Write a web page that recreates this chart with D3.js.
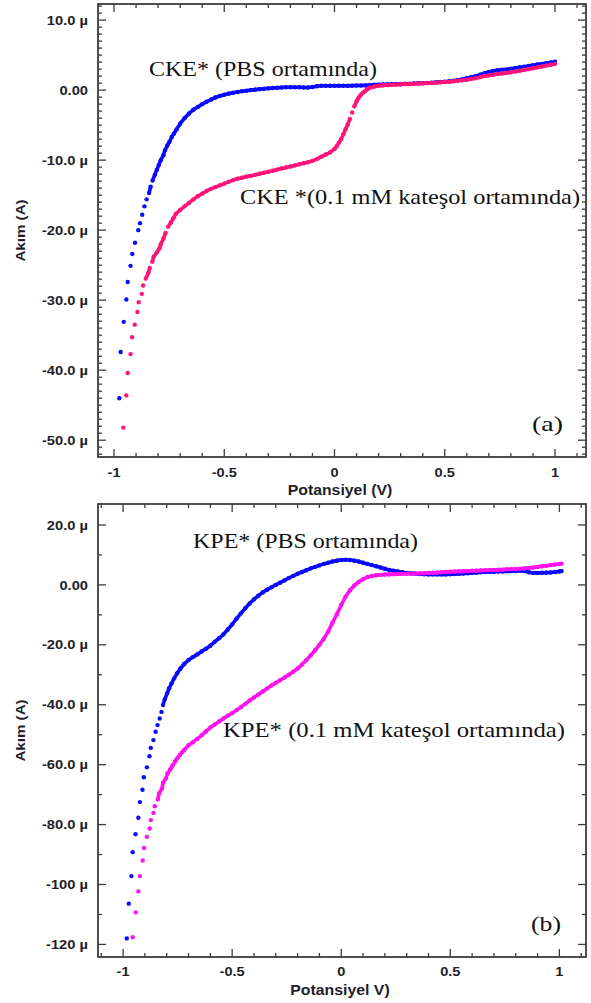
<!DOCTYPE html>
<html><head><meta charset="utf-8">
<script src="https://cdn.jsdelivr.net/npm/d3@7"></script>
<style>body{margin:0;background:#fff}</style>
</head><body>
<svg id="c" width="591" height="1003"></svg>
<script>
// ---------- DATA (potential V, current µA) ----------
const ckePbs = [
[-0.976,-44.0],[-0.970,-37.4],[-0.956,-33.1],[-0.944,-29.9],[-0.938,-27.4],[-0.925,-25.1],[-0.917,-23.4],[-0.905,-21.8],
[-0.890,-20.0],[-0.882,-19.0],[-0.872,-17.8],[-0.862,-16.6],[-0.852,-15.6],[-0.841,-14.7],[-0.834,-13.8],[-0.825,-12.9],
[-0.815,-12.1],[-0.806,-11.4],[-0.797,-10.7],[-0.788,-10.0],[-0.776,-9.3],[-0.769,-8.6],[-0.758,-7.9],[-0.749,-7.4],
[-0.738,-6.7],[-0.728,-6.2],[-0.716,-5.6],[-0.70,-4.8],[-0.68,-4.0],[-0.66,-3.35],[-0.64,-2.8],[-0.62,-2.4],[-0.60,-2.0],
[-0.58,-1.65],[-0.56,-1.35],[-0.54,-1.05],[-0.52,-0.85],[-0.50,-0.65],[-0.48,-0.5],[-0.46,-0.38],[-0.44,-0.27],[-0.42,-0.17],
[-0.40,-0.08],[-0.38,0.0],[-0.36,0.07],[-0.34,0.14],[-0.32,0.2],[-0.30,0.25],[-0.28,0.3],[-0.26,0.33],[-0.24,0.37],
[-0.22,0.4],[-0.20,0.42],[-0.18,0.42],[-0.16,0.4],[-0.14,0.38],[-0.12,0.38],[-0.10,0.45],[-0.08,0.55],[-0.06,0.62],
[-0.04,0.62],[-0.02,0.62],[0.00,0.62],[0.02,0.62],[0.04,0.62],[0.06,0.63],[0.08,0.64],[0.10,0.65],[0.12,0.66],[0.14,0.68],
[0.16,0.72],[0.18,0.76],[0.20,0.78],[0.22,0.8],[0.24,0.82],[0.26,0.84],[0.28,0.86],[0.30,0.88],[0.32,0.9],[0.34,0.92],
[0.36,0.95],[0.38,0.98],[0.40,1.0],[0.42,1.02],[0.44,1.05],[0.46,1.1],[0.48,1.15],[0.50,1.2],[0.52,1.27],[0.54,1.35],
[0.56,1.45],[0.58,1.55],[0.60,1.7],[0.62,1.85],[0.64,2.0],[0.66,2.2],[0.68,2.4],[0.70,2.6],[0.72,2.75],[0.74,2.85],
[0.76,2.9],[0.78,2.95],[0.80,3.05],[0.82,3.15],[0.84,3.25],[0.86,3.35],[0.88,3.45],[0.90,3.55],[0.92,3.65],[0.94,3.75],
[0.96,3.85],[0.98,3.95],[1.00,4.05]
];
const ckeCat = [
[-0.958,-48.2],[-0.944,-43.6],[-0.938,-40.4],[-0.925,-37.7],[-0.918,-35.3],[-0.906,-33.5],[-0.894,-31.7],[-0.888,-30.3],
[-0.874,-29.1],[-0.868,-27.9],[-0.856,-26.9],[-0.844,-26.1],[-0.838,-25.4],[-0.826,-24.5],[-0.820,-23.8],[-0.806,-23.2],
[-0.794,-22.6],[-0.788,-22.0],[-0.776,-21.2],[-0.766,-20.4],[-0.754,-19.5],[-0.742,-18.9],[-0.731,-18.3],[-0.72,-17.7],
[-0.70,-17.1],[-0.68,-16.6],[-0.66,-16.1],[-0.64,-15.6],[-0.62,-15.15],[-0.60,-14.8],[-0.58,-14.4],[-0.56,-14.1],
[-0.54,-13.85],[-0.52,-13.6],[-0.50,-13.35],[-0.48,-13.1],[-0.46,-12.85],[-0.44,-12.65],[-0.42,-12.5],[-0.40,-12.35],
[-0.38,-12.25],[-0.36,-12.1],[-0.34,-11.95],[-0.32,-11.8],[-0.30,-11.65],[-0.28,-11.5],[-0.26,-11.35],[-0.24,-11.2],
[-0.22,-11.05],[-0.20,-10.9],[-0.18,-10.75],[-0.16,-10.6],[-0.14,-10.45],[-0.12,-10.3],[-0.10,-10.1],[-0.08,-9.85],
[-0.06,-9.5],[-0.04,-9.2],[-0.02,-8.9],[0.00,-8.4],[0.01,-8.0],[0.02,-7.5],[0.03,-7.0],[0.04,-6.3],[0.05,-5.6],[0.06,-4.9],
[0.07,-4.1],[0.08,-3.2],[0.09,-2.3],[0.10,-1.6],[0.11,-1.05],[0.12,-0.65],[0.13,-0.35],[0.14,-0.1],[0.15,0.15],[0.16,0.35],
[0.18,0.5],[0.20,0.62],[0.22,0.68],[0.24,0.72],[0.26,0.75],[0.28,0.78],[0.30,0.82],[0.32,0.86],[0.34,0.88],[0.36,0.9],
[0.38,0.93],[0.40,0.96],[0.42,1.0],[0.44,1.03],[0.46,1.07],[0.48,1.1],[0.50,1.15],[0.52,1.2],[0.54,1.26],[0.56,1.33],
[0.58,1.4],[0.60,1.48],[0.62,1.58],[0.64,1.7],[0.66,1.85],[0.68,2.0],[0.70,2.1],[0.72,2.2],[0.74,2.3],[0.76,2.38],
[0.78,2.45],[0.80,2.55],[0.82,2.65],[0.84,2.76],[0.86,2.88],[0.88,3.0],[0.90,3.12],[0.92,3.25],[0.94,3.38],[0.96,3.5],
[0.98,3.62],[1.00,3.75]
];
const kpePbs = [
[-0.983,-118.0],[-0.974,-106.4],[-0.962,-97.2],[-0.956,-89.2],[-0.943,-83.2],[-0.930,-77.7],[-0.923,-72.5],[-0.911,-68.4],
[-0.905,-64.2],[-0.891,-60.9],[-0.879,-57.2],[-0.873,-54.4],[-0.861,-51.8],[-0.851,-49.0],[-0.842,-46.8],[-0.832,-44.6],
[-0.824,-42.4],[-0.817,-40.1],[-0.809,-38.2],[-0.798,-36.2],[-0.789,-34.5],[-0.778,-32.9],[-0.766,-31.2],[-0.752,-29.5],
[-0.737,-27.9],[-0.72,-26.4],[-0.70,-25.1],[-0.68,-24.1],[-0.66,-23.2],[-0.64,-22.2],[-0.62,-21.3],[-0.60,-20.3],
[-0.58,-19.0],[-0.56,-17.8],[-0.54,-16.5],[-0.52,-14.9],[-0.50,-13.2],[-0.48,-11.3],[-0.46,-9.5],[-0.44,-7.8],[-0.42,-6.2],
[-0.40,-4.8],[-0.38,-3.6],[-0.36,-2.5],[-0.34,-1.6],[-0.32,-0.8],[-0.30,0.0],[-0.28,0.75],[-0.26,1.5],[-0.24,2.3],
[-0.22,3.0],[-0.20,3.7],[-0.18,4.3],[-0.16,4.9],[-0.14,5.5],[-0.12,6.0],[-0.10,6.5],[-0.08,7.0],[-0.06,7.4],[-0.04,7.8],
[-0.02,8.1],[0.00,8.3],[0.02,8.4],[0.04,8.3],[0.06,8.1],[0.08,7.8],[0.10,7.4],[0.12,7.0],[0.14,6.6],[0.16,6.2],[0.18,5.8],
[0.20,5.4],[0.22,5.0],[0.24,4.7],[0.26,4.45],[0.28,4.2],[0.30,4.0],[0.32,3.85],[0.34,3.75],[0.36,3.65],[0.38,3.55],
[0.40,3.5],[0.42,3.5],[0.44,3.5],[0.46,3.5],[0.48,3.5],[0.50,3.55],[0.52,3.6],[0.54,3.7],[0.56,3.8],[0.58,3.9],[0.60,4.0],
[0.62,4.1],[0.64,4.2],[0.66,4.3],[0.68,4.35],[0.70,4.4],[0.72,4.45],[0.74,4.5],[0.76,4.55],[0.78,4.6],[0.80,4.65],
[0.82,4.7],[0.84,4.6],[0.86,4.2],[0.88,4.0],[0.90,4.0],[0.92,4.05],[0.94,4.1],[0.96,4.15],[0.98,4.3],[1.00,4.5],[1.01,4.6]
];
const kpeCat = [
[-0.956,-117.6],[-0.942,-109.3],[-0.930,-102.3],[-0.923,-97.2],[-0.910,-92.0],[-0.904,-87.8],[-0.891,-84.1],[-0.878,-81.3],
[-0.873,-78.5],[-0.861,-76.1],[-0.855,-73.9],[-0.841,-71.6],[-0.835,-69.6],[-0.822,-68.0],[-0.817,-66.1],[-0.804,-64.6],
[-0.796,-62.9],[-0.784,-61.6],[-0.773,-60.3],[-0.762,-59.0],[-0.752,-57.9],[-0.740,-56.8],[-0.73,-55.9],[-0.72,-55.1],
[-0.70,-53.5],[-0.68,-52.5],[-0.66,-51.4],[-0.64,-50.2],[-0.62,-48.9],[-0.60,-47.6],[-0.58,-46.6],[-0.56,-45.6],
[-0.54,-44.6],[-0.52,-43.7],[-0.50,-42.8],[-0.48,-41.8],[-0.46,-40.8],[-0.44,-39.7],[-0.42,-38.6],[-0.40,-37.6],
[-0.38,-36.6],[-0.36,-35.6],[-0.34,-34.6],[-0.32,-33.6],[-0.30,-32.7],[-0.28,-31.8],[-0.26,-30.9],[-0.24,-30.0],
[-0.22,-29.0],[-0.20,-27.9],[-0.18,-26.6],[-0.16,-25.1],[-0.14,-23.5],[-0.12,-21.8],[-0.10,-20.0],[-0.08,-18.0],
[-0.06,-15.6],[-0.04,-12.6],[-0.02,-9.8],[0.00,-6.7],[0.02,-3.9],[0.04,-1.8],[0.06,-0.2],[0.08,1.0],[0.10,1.9],[0.12,2.6],
[0.14,3.0],[0.16,3.2],[0.18,3.35],[0.20,3.45],[0.22,3.5],[0.24,3.55],[0.26,3.6],[0.28,3.65],[0.30,3.7],[0.32,3.75],
[0.34,3.8],[0.36,3.85],[0.38,3.9],[0.40,4.0],[0.42,4.05],[0.44,4.1],[0.46,4.2],[0.48,4.3],[0.50,4.4],[0.52,4.45],[0.54,4.5],
[0.56,4.55],[0.58,4.6],[0.60,4.7],[0.62,4.75],[0.64,4.8],[0.66,4.9],[0.68,4.95],[0.70,5.0],[0.72,5.05],[0.74,5.1],
[0.76,5.2],[0.78,5.25],[0.80,5.3],[0.82,5.4],[0.84,5.5],[0.86,5.65],[0.88,5.8],[0.90,6.0],[0.92,6.2],[0.94,6.4],
[0.96,6.6],[0.98,6.8],[1.00,7.0],[1.01,7.1]
];
const xTicks = [-1, -0.5, 0, 0.5, 1];
const xTickLabels = ["-1", "-0.5", "0", "0.5", "1"];
const yTicksA = [10, 0, -10, -20, -30, -40, -50];
const yTickLabelsA = ["10.0 µ", "0.00", "-10.0 µ", "-20.0 µ", "-30.0 µ", "-40.0 µ", "-50.0 µ"];
const yTicksB = [20, 0, -20, -40, -60, -80, -100, -120];
const yTickLabelsB = ["20.0 µ", "0.00", "-20.0 µ", "-40.0 µ", "-60.0 µ", "-80.0 µ", "-100 µ", "-120 µ"];

// ---------- DRAW ----------
const svg = d3.select("#c");
const SANS = "'Liberation Sans', Arial, sans-serif";
const SERIF = "'Liberation Serif', 'DejaVu Serif', serif";
const AXC = "#3c3c3c";
const TXC = "#1e1e28";

function stretch(sel, f) {
  sel.each(function () {
    const L = this.getComputedTextLength();
    d3.select(this).attr("textLength", L * f).attr("lengthAdjust", "spacingAndGlyphs");
  });
}
function fitText(sel, w) {
  sel.attr("textLength", w).attr("lengthAdjust", "spacingAndGlyphs");
}

function panel(cfg) {
  const {L, R, T, B} = cfg.box;
  const x = d3.scaleLinear().domain(cfg.xDom).range([L, R]);
  const y = d3.scaleLinear().domain(cfg.yDom).range([B, T]);
  const g = svg.append("g");

  // minor ticks
  const xMin = d3.range(-11, 12).map(d => d / 10).filter(v => x(v) > L + 1 && x(v) < R - 1);
  const yMin = d3.range(Math.ceil(cfg.yDom[0] / cfg.yMinor), Math.floor(cfg.yDom[1] / cfg.yMinor) + 1)
    .map(k => k * cfg.yMinor).filter(v => y(v) > T + 1 && y(v) < B - 1);

  const tk = g.append("g").attr("stroke", AXC).attr("stroke-width", 1.3);
  xMin.forEach(v => {
    const maj = xTicks.some(m => Math.abs(m - v) < 1e-9);
    const len = maj ? 8 : 4;
    tk.append("line").attr("x1", x(v)).attr("x2", x(v)).attr("y1", B).attr("y2", B - len);
    tk.append("line").attr("x1", x(v)).attr("x2", x(v)).attr("y1", T).attr("y2", T + len);
  });
  yMin.forEach(v => {
    const maj = cfg.yTicks.some(m => Math.abs(m - v) < 1e-9);
    const len = maj ? 8 : 4;
    tk.append("line").attr("x1", L).attr("x2", L + len).attr("y1", y(v)).attr("y2", y(v));
    tk.append("line").attr("x1", R).attr("x2", R - len).attr("y1", y(v)).attr("y2", y(v));
  });

  // frame
  g.append("rect").attr("x", L).attr("y", T).attr("width", R - L).attr("height", B - T)
    .attr("fill", "none").attr("stroke", AXC).attr("stroke-width", 1.8);

  // tick labels
  const yl = g.selectAll("text.yl").data(cfg.yTicks).enter().append("text")
    .attr("x", L - 10).attr("y", d => y(d)).attr("dy", "0.36em")
    .attr("text-anchor", "end").attr("font-family", SANS).attr("font-weight", "bold")
    .attr("font-size", 13).attr("fill", TXC)
    .text((d, i) => cfg.yLabels[i]);
  stretch(yl, 1.13);
  const xl = g.selectAll("text.xl").data(xTicks).enter().append("text")
    .attr("x", d => x(d)).attr("y", cfg.xLabelY)
    .attr("text-anchor", "middle").attr("font-family", SANS).attr("font-weight", "bold")
    .attr("font-size", 13).attr("fill", TXC)
    .text((d, i) => xTickLabels[i]);
  stretch(xl, 1.12);

  // axis titles
  const xt = g.append("text").attr("x", cfg.xTitleX).attr("y", cfg.xTitleY).attr("text-anchor", "middle")
    .attr("font-family", SANS).attr("font-weight", "bold").attr("font-size", 14).attr("fill", TXC)
    .text(cfg.xTitle);
  stretch(xt, 1.13);
  const yt = g.append("text").attr("transform", `translate(20,${(T + B) / 2}) rotate(-90)`)
    .attr("text-anchor", "middle").attr("dy", "0.36em")
    .attr("font-family", SANS).attr("font-weight", "bold").attr("font-size", 13.5).attr("fill", TXC)
    .text("Akım (A)");
  stretch(yt, 1.12);

  // series
  const clipId = "clip" + cfg.id;
  svg.append("clipPath").attr("id", clipId).append("rect")
    .attr("x", L + 1).attr("y", T + 1).attr("width", R - L - 2).attr("height", B - T - 2);
  const sg = g.append("g").attr("clip-path", `url(#${clipId})`);
  cfg.series.forEach(s => {
    const pts = s.data.map(d => [x(d[0]), y(d[1])]);
    // join neighbouring readings with a stroke where the instrument's dense dots would touch
    const segs = d3.pairs(pts).filter(([a, b]) => {
      const dx = Math.abs(b[0] - a[0]), dist = Math.hypot(b[0] - a[0], b[1] - a[1]);
      return dist < 6.5 || (dx > 3.5 && dist < 14);
    });
    sg.append("g").selectAll("line").data(segs).enter().append("line")
      .attr("x1", d => d[0][0]).attr("y1", d => d[0][1]).attr("x2", d => d[1][0]).attr("y2", d => d[1][1])
      .attr("stroke", s.color).attr("stroke-width", 3.6).attr("stroke-linecap", "round");
    sg.append("g").selectAll("circle").data(pts).enter().append("circle")
      .attr("cx", d => d[0]).attr("cy", d => d[1]).attr("r", 2.2).attr("fill", s.color);
  });

  // annotations
  cfg.notes.forEach(n => {
    const t = g.append("text").attr("x", n.x).attr("y", n.y).attr("font-family", SERIF)
      .attr("font-size", n.size).attr("fill", "#111").text(n.text);
    fitText(t, n.w);
  });
}

panel({
  id: "A",
  box: {L: 98, R: 586, T: 4, B: 457},
  xDom: [-1.0726, 1.1406], yDom: [-52.4, 12.3], yMinor: 1,
  yTicks: yTicksA, yLabels: yTickLabelsA,
  xLabelY: 477, xTitle: "Potansiyel (V)", xTitleX: 340, xTitleY: 495,
  series: [{data: ckePbs, color: "#0a0aff"}, {data: ckeCat, color: "#ff1477"}],
  notes: [
    {text: "CKE* (PBS ortamında)", x: 149, y: 76, size: 21, w: 228},
    {text: "CKE *(0.1 mM kateşol ortamında)", x: 240, y: 204, size: 21, w: 340},
    {text: "(a)", x: 532, y: 431, size: 21, w: 31}
  ]
});

panel({
  id: "B",
  box: {L: 98, R: 586, T: 504, B: 957},
  xDom: [-1.115, 1.122], yDom: [-124.2, 27.0], yMinor: 10,
  yTicks: yTicksB, yLabels: yTickLabelsB,
  xLabelY: 976, xTitle: "Potansiyel V)", xTitleX: 340, xTitleY: 995,
  series: [{data: kpePbs, color: "#0a0aff"}, {data: kpeCat, color: "#ff12ee"}],
  notes: [
    {text: "KPE* (PBS ortamında)", x: 193, y: 548, size: 21, w: 225},
    {text: "KPE* (0.1 mM kateşol ortamında)", x: 223, y: 737, size: 21, w: 342},
    {text: "(b)", x: 531, y: 931, size: 21, w: 30}
  ]
});
</script>
</body></html>
